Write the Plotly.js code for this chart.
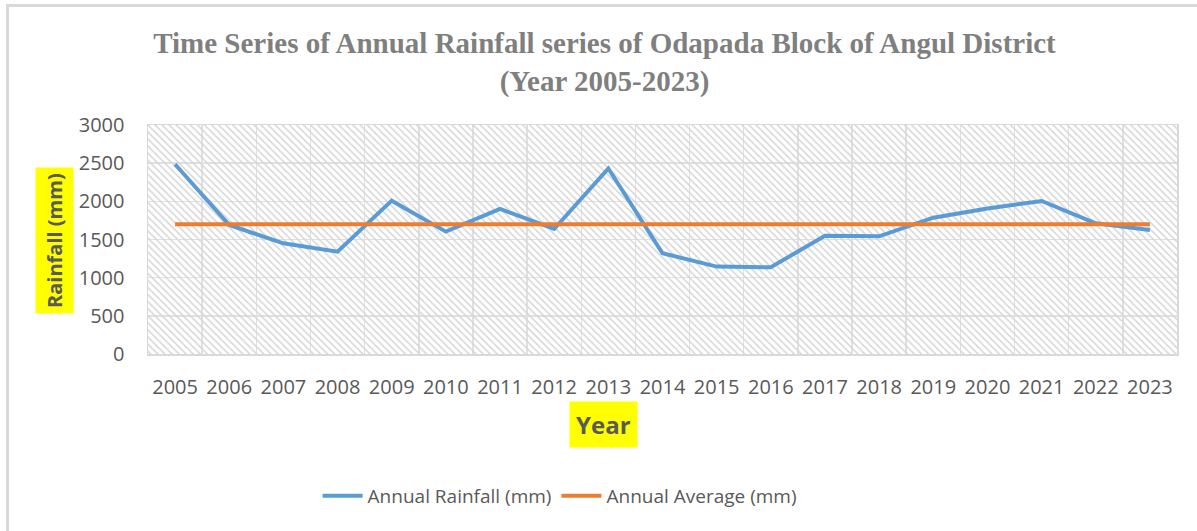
<!DOCTYPE html>
<html>
<head>
<meta charset="utf-8">
<script src="https://cdn.plot.ly/plotly-3.0.1.min.js"></script>
<style>
  html, body { margin: 0; padding: 0; background: #fff; }
  #chart { width: 1197px; height: 531px; }
  /* light frame seen at top/left of the original chart box */
  #frame {
    position: absolute; left: 6px; top: 4px; width: 1200px; height: 540px;
    border-top: 3px solid #d9d9d9; border-left: 3px solid #d9d9d9;
    pointer-events: none;
  }
</style>
</head>
<body>
<div id="chart"></div>
<div id="frame"></div>
<script>
// Values
const years = ["2005", "2006", "2007", "2008", "2009", "2010", "2011", "2012", "2013", "2014",
               "2015", "2016", "2017", "2018", "2019", "2020", "2021", "2022", "2023"];
const annualRainfall = [2486, 1690, 1450, 1341, 2009, 1603, 1900, 1638, 2430, 1320,
                        1145, 1136, 1550, 1542, 1786, 1905, 2005, 1713, 1625];
const annualAverage = [1699, 1699, 1699, 1699, 1699, 1699, 1699, 1699, 1699, 1699,
                       1699, 1699, 1699, 1699, 1699, 1699, 1699, 1699, 1699];
const yTicks = [0, 500, 1000, 1500, 2000, 2500, 3000];
const yMax = 3000;

const textGrey = "#595959";

// Hatched plot-area fill, done as a transparent patterned bar per category
const hatch = {
  x: years,
  y: years.map(() => yMax),
  type: "bar",
  width: 1,
  marker: {
    color: "rgba(0,0,0,0)",
    line: { width: 0 },
    pattern: { shape: "\\", fgcolor: "#d6d6d6", size: 5, solidity: 0.3 }
  },
  hoverinfo: "skip",
  showlegend: false
};

const rainfall = {
  x: years,
  y: annualRainfall,
  type: "scatter",
  mode: "lines",
  name: "Annual Rainfall (mm)",
  line: { color: "#5b9bd5", width: 4 }
};

const average = {
  x: years,
  y: annualAverage,
  type: "scatter",
  mode: "lines",
  name: "Annual Average (mm)",
  line: { color: "#ed7d31", width: 4 }
};

const layout = {
  width: 1197,
  height: 531,
  margin: { l: 148, r: 20, t: 125, b: 177 },
  paper_bgcolor: "#fff",
  plot_bgcolor: "#fff",
  bargap: 0,
  font: { family: "Open Sans, sans-serif", size: 20, color: textGrey },
  title: {
    text: "<b>Time Series of Annual Rainfall series of Odapada Block of Angul District<br>(Year 2005-2023)</b>",
    font: { family: "Liberation Serif, Times New Roman, serif", size: 29, color: "#7f7f7f" },
    x: 0.505,
    xanchor: "center",
    y: 0.9,
    yanchor: "top"
  },
  xaxis: {
    type: "category",
    tickson: "boundaries",
    ticks: "",
    tickangle: 0,
    showgrid: true,
    gridcolor: "#e0e0e0",
    gridwidth: 1.5,
    showline: true,
    linecolor: "#d9d9d9",
    linewidth: 1.5,
    mirror: true,
    ticklabelstandoff: 14,
    tickfont: { size: 20, color: textGrey }
  },
  yaxis: {
    range: [0, yMax],
    tickvals: yTicks,
    ticks: "",
    showgrid: true,
    gridcolor: "#e0e0e0",
    gridwidth: 1.5,
    zeroline: false,
    showline: true,
    linecolor: "#d9d9d9",
    linewidth: 1.5,
    mirror: true,
    ticklabelstandoff: 18,
    tickfont: { size: 20, color: textGrey }
  },
  legend: {
    orientation: "h",
    x: 0.40,
    xanchor: "center",
    y: -0.62,
    yanchor: "middle",
    font: { size: 19, color: textGrey },
    itemwidth: 40
  },
  annotations: [
    {
      text: "<b>Rainfall (mm)</b>",
      xref: "paper", yref: "paper",
      x: -0.0904, y: 0.498,
      xanchor: "center", yanchor: "middle",
      textangle: -90,
      showarrow: false,
      bgcolor: "#ffff00",
      borderpad: 5,
      font: { size: 20, color: textGrey }
    },
    {
      text: "<b>Year</b>",
      xref: "paper", yref: "paper",
      x: 0.443, y: -0.31,
      xanchor: "center", yanchor: "middle",
      showarrow: false,
      bgcolor: "#ffff00",
      borderpad: 6,
      font: { size: 24, color: textGrey }
    }
  ]
};

Plotly.newPlot("chart", [hatch, rainfall, average], layout, { displayModeBar: false, staticPlot: true });
</script>
</body>
</html>
